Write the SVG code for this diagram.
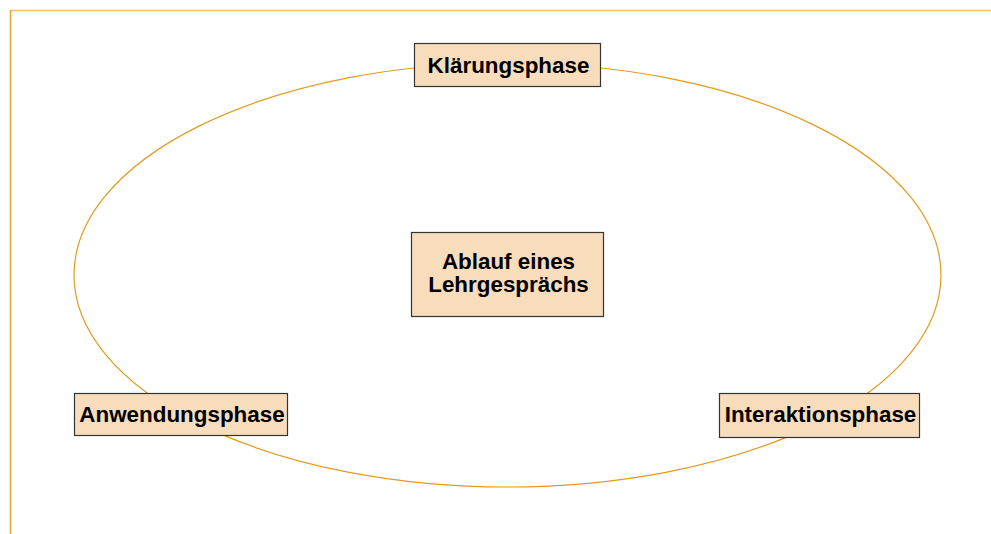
<svg xmlns="http://www.w3.org/2000/svg" width="991" height="534" viewBox="0 0 991 534">
<style>
.box{fill:#f8ddbd;stroke:#333;stroke-width:1.2}
.t{font-family:"Liberation Sans",Arial,sans-serif;font-weight:bold;font-size:22.4px;fill:#000;text-anchor:middle}
.conn{fill:none;stroke:#e39a1c;stroke-width:1.2}
</style>
<rect width="991" height="534" fill="#fff"/>
<g id="frame">
<line x1="10" y1="10.5" x2="991" y2="10.5" stroke="#efbe6e" stroke-width="1.5"/>
<line x1="10.5" y1="10" x2="10.5" y2="534" stroke="#eea52e" stroke-width="1.5"/>
</g>
<g id="connectors">
<ellipse class="conn" cx="507.5" cy="275" rx="433.5" ry="212"/>
</g>
<g id="klaerungsphase">
<rect class="box" x="414.5" y="43.5" width="186" height="43"/>
<text class="t" x="508.5" y="73">Klärungsphase</text>
</g>
<g id="ablauf">
<rect class="box" x="411.5" y="232.5" width="192" height="84"/>
<text class="t"><tspan x="508.5" y="269">Ablauf eines</tspan><tspan x="508.5" y="292">Lehrgesprächs</tspan></text>
</g>
<g id="anwendungsphase">
<rect class="box" x="74.5" y="393.5" width="213" height="42"/>
<text class="t" x="182" y="422">Anwendungsphase</text>
</g>
<g id="interaktionsphase">
<rect class="box" x="719.5" y="393.5" width="200" height="44"/>
<text class="t" x="820.5" y="422">Interaktionsphase</text>
</g>
</svg>
